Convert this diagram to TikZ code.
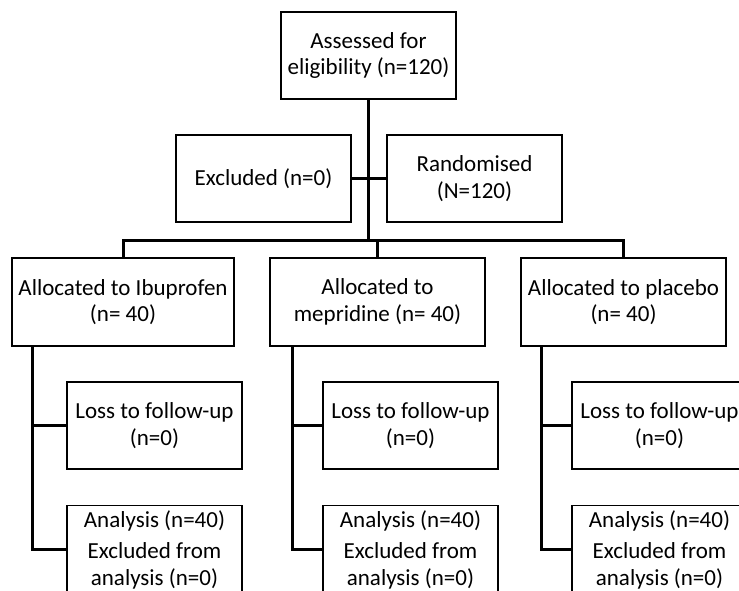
\documentclass[tikz,border=0pt]{standalone}
\usepackage{fontspec}
\setmainfont{Carlito}
\begin{document}
\begin{tikzpicture}[x=1pt,y=-1pt,
  box/.style={draw=black,line width=1.5pt,minimum width=175pt,minimum height=87pt,
    inner sep=2pt,align=center,font=\fontsize{23}{26.5}\selectfont},
  conn/.style={draw=black,line width=3pt,line cap=rect}]
\useasboundingbox (0,0) rectangle (739,590);
\clip (0,0) rectangle (739,590);
\node[box] (top) at (368.5,55.5) {Assessed for\\eligibility (n=120)};
\node[box] (exc) at (263.5,178.5) {Excluded (n=0)};
\node[box] (ran) at (474.5,178.5) {Randomised\\(N=120)};
\node[box,minimum width=222pt,minimum height=88pt] (ibu) at (123,302) {Allocated to Ibuprofen\\(n= 40)};
\node[box,minimum width=215pt,minimum height=88pt] (mep) at (377.5,302) {Allocated to\\mepridine (n= 40)};
\node[box,minimum width=205pt,minimum height=88pt] (pla) at (623.5,302) {Allocated to placebo\\(n= 40)};
\coordinate (bus) at (369,240);
\node[box] (il) at (154.5,425.5) {Loss to follow-up\\(n=0)};
\node[box] (ml) at (410.5,425.5) {Loss to follow-up\\(n=0)};
\node[box] (pl) at (659.5,425.5) {Loss to follow-up\\(n=0)};
\node[box,minimum height=88pt] (ia) at (154.5,549.5) {Analysis (n=40)\\[5pt]Excluded from\\analysis (n=0)};
\node[box,minimum height=88pt] (ma) at (410.5,549.5) {Analysis (n=40)\\[5pt]Excluded from\\analysis (n=0)};
\node[box,minimum height=88pt] (pa) at (659.5,549.5) {Analysis (n=40)\\[5pt]Excluded from\\analysis (n=0)};
% connectors
\draw[conn] (top.south) -- (top.south |- bus);
\draw[conn] (exc.east) -- (ran.west);
\draw[conn] (ibu.north) -- (ibu.north |- bus) -- (pla.north |- bus) -- (pla.north);
\draw[conn] (mep.north) -- (mep.north |- bus);
\draw[conn] ([xshift=21pt]ibu.south west) |- (ia.west);
\draw[conn] ([xshift=21pt]ibu.south west) |- (il.west);
\draw[conn] ([xshift=23pt]mep.south west) |- (ma.west);
\draw[conn] ([xshift=23pt]mep.south west) |- (ml.west);
\draw[conn] ([xshift=21pt]pla.south west) |- (pa.west);
\draw[conn] ([xshift=21pt]pla.south west) |- (pl.west);
\end{tikzpicture}
\end{document}
